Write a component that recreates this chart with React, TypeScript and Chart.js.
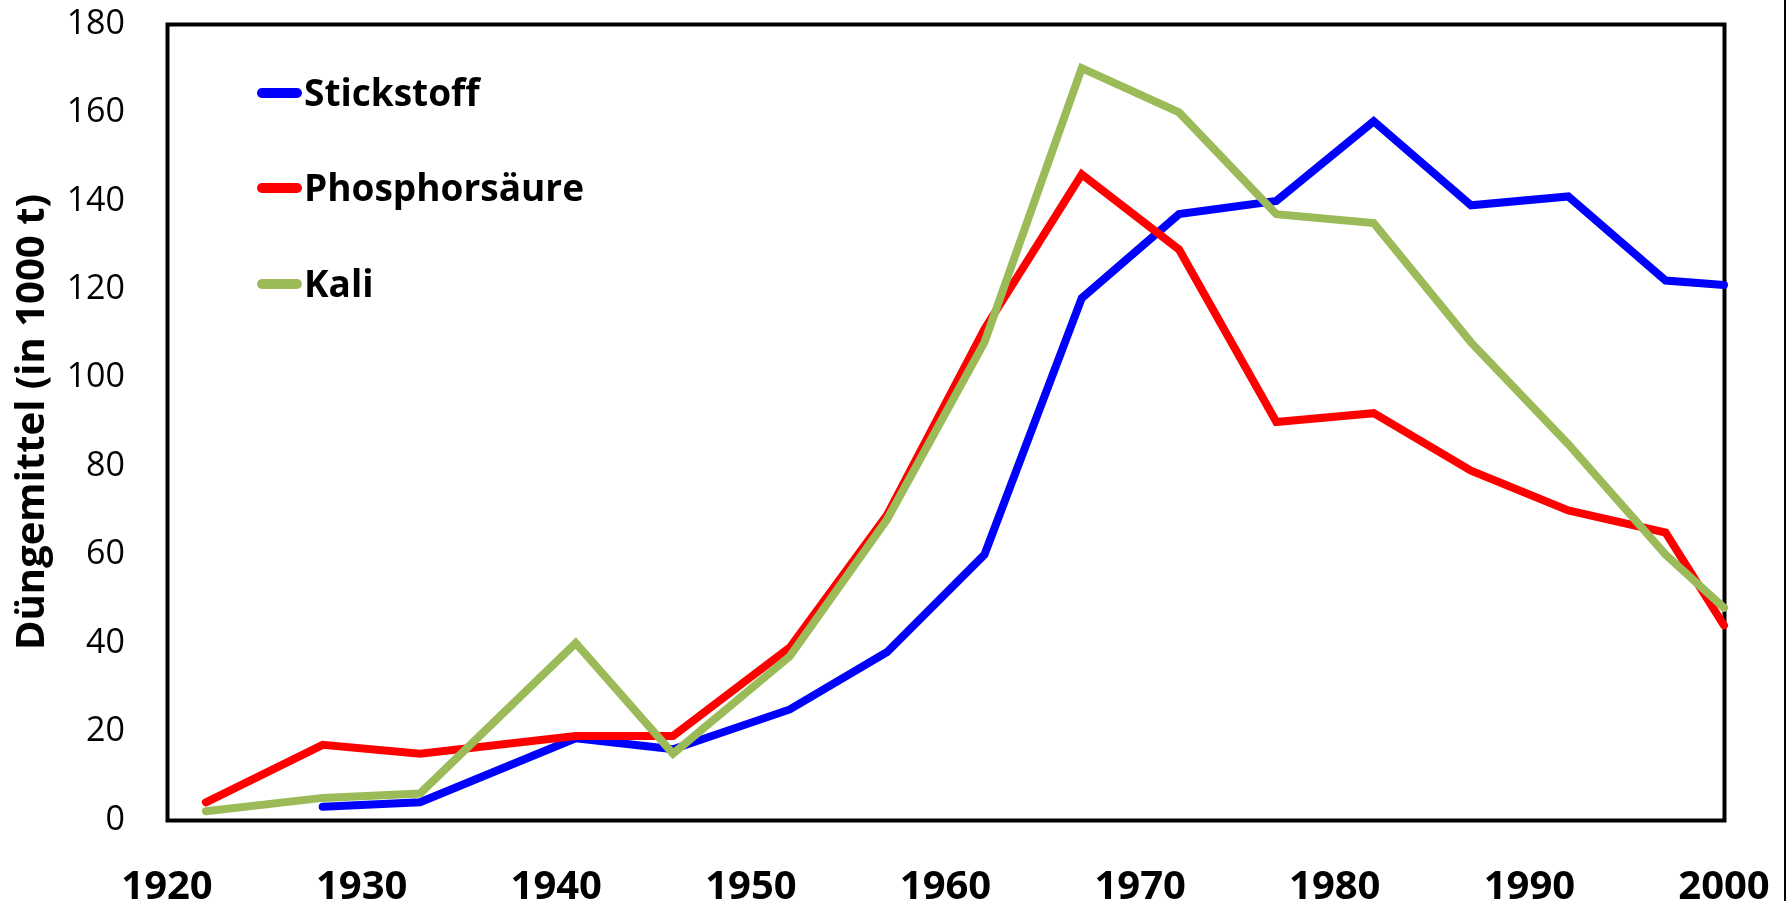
import React, { useEffect, useRef } from "react";
import { Chart, registerables } from "chart.js";

Chart.register(...registerables);

// ---- data ----
const years = [1922, 1928, 1933, 1941, 1946, 1952, 1957, 1962, 1967, 1972, 1977, 1982, 1987, 1992, 1997, 2000];
const stickstoff = [null, 3, 4, 18.5, 16, 25, 38, 60, 118, 137, 140, 158, 139, 141, 122, 121];
const phosphorsaeure = [4, 17, 15, 19, 19, 39, 69, 111, 146, 129, 90, 92, 79, 70, 65, 44];
const kali = [2, 5, 6, 40, 15, 37, 68, 108, 170, 160, 137, 135, 108, 85, 60, 48];

const seriesNames = ["Stickstoff", "Phosphorsäure", "Kali"];
const seriesColors = ["#0000FF", "#FF0000", "#9BBB59"];

const xTickValues = [1920, 1930, 1940, 1950, 1960, 1970, 1980, 1990, 2000];
const yTickValues = [0, 20, 40, 60, 80, 100, 120, 140, 160, 180];
const yTitle = "Düngemittel (in 1000 t)";

const FONT = "'Open Sans', 'DejaVu Sans', sans-serif";

function toPoints(vals: (number | null)[]) {
  return years
    .map((x, i) => ({ x, y: vals[i] }))
    .filter((p) => p.y !== null) as { x: number; y: number }[];
}

const decorPlugin = {
  id: "decor",
  beforeDatasetsDraw(chart: any) {
    const { ctx, chartArea: a } = chart;
    ctx.save();
    ctx.strokeStyle = "#000";
    ctx.lineWidth = 4;
    ctx.lineJoin = "miter";
    ctx.strokeRect(a.left + 0.5, a.top + 0.5, a.right - a.left, a.bottom - a.top);
    ctx.restore();
  },
  afterDraw(chart: any) {
    const { ctx, chartArea: a } = chart;
    ctx.save();
    // legend inside plot
    const legendYs = [106, 201, 297];
    ctx.font = `bold 37px ${FONT}`;
    ctx.textBaseline = "alphabetic";
    ctx.textAlign = "left";
    seriesNames.forEach((name, i) => {
      const baseY = legendYs[i];
      const lineY = baseY - 13;
      ctx.strokeStyle = seriesColors[i];
      ctx.lineWidth = 10;
      ctx.lineCap = "round";
      ctx.beginPath();
      ctx.moveTo(262, lineY);
      ctx.lineTo(297, lineY);
      ctx.stroke();
      ctx.fillStyle = "#000";
      ctx.fillText(name, 304, baseY);
    });
    // y axis title
    ctx.translate(44, (a.top + a.bottom) / 2);
    ctx.rotate(-Math.PI / 2);
    ctx.font = `bold 40px ${FONT}`;
    ctx.textAlign = "center";
    ctx.textBaseline = "alphabetic";
    ctx.fillStyle = "#000";
    ctx.fillText(yTitle, 0, 0);
    ctx.restore();
    // right edge line
    ctx.save();
    ctx.fillStyle = "#000";
    ctx.fillRect(1784, 0, 2, chart.height);
    ctx.restore();
  },
};

export default function App() {
  const ref = useRef<HTMLCanvasElement>(null);

  useEffect(() => {
    if (!ref.current) return;
    const datasets = [stickstoff, phosphorsaeure, kali].map((vals, i) => ({
      label: seriesNames[i],
      data: toPoints(vals),
      borderColor: seriesColors[i],
      backgroundColor: seriesColors[i],
      borderWidth: 8,
      borderJoinStyle: "miter" as const,
      borderCapStyle: "round" as const,
      pointRadius: 0,
      pointHoverRadius: 0,
      tension: 0,
      fill: false,
      clip: false as any,
      order: 2 - i,
    }));

    const zeroPad = (s: any) => {
      s.paddingTop = 0;
      s.paddingBottom = 0;
      s.paddingLeft = 0;
      s.paddingRight = 0;
    };

    const chart = new Chart(ref.current, {
      type: "line",
      data: { datasets },
      plugins: [decorPlugin],
      options: {
        animation: false,
        responsive: false,
        devicePixelRatio: 1,
        layout: { padding: { left: 0, top: 24, right: 64, bottom: 0 } },
        plugins: {
          legend: { display: false },
          tooltip: { enabled: false },
          title: { display: false },
        },
        scales: {
          x: {
            type: "linear",
            min: 1920,
            max: 2000,
            grid: { display: false, drawTicks: false, tickLength: 0 },
            border: { display: false },
            afterBuildTicks: (s: any) => {
              s.ticks = xTickValues.map((v) => ({ value: v }));
            },
            afterFit: (s: any) => {
              s.height = 81;
              zeroPad(s);
            },
            ticks: {
              autoSkip: false,
              maxRotation: 0,
              minRotation: 0,
              padding: 44,
              color: "#000",
              font: { family: FONT, size: 40, weight: "bold" },
              callback: (v: any) => String(v),
            },
          },
          y: {
            type: "linear",
            min: 0,
            max: 180,
            grid: { display: false, drawTicks: false, tickLength: 0 },
            border: { display: false },
            afterBuildTicks: (s: any) => {
              s.ticks = yTickValues.map((v) => ({ value: v }));
            },
            afterFit: (s: any) => {
              s.width = 167;
              zeroPad(s);
            },
            ticks: {
              autoSkip: false,
              padding: 42,
              color: "#000",
              font: { family: FONT, size: 34, weight: "normal" },
              callback: (v: any) => String(v),
            },
          },
        },
      },
    });
    return () => chart.destroy();
  }, []);

  return (
    <div style={{ position: "absolute", left: 0, top: 0, width: 1788, height: 901, background: "#fff" }}>
      <canvas ref={ref} width={1788} height={901} style={{ display: "block", width: 1788, height: 901 }} />
    </div>
  );
}
